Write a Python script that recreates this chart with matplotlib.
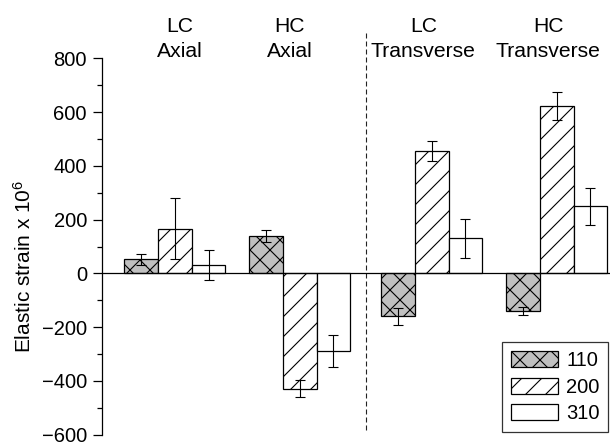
import matplotlib
matplotlib.use("Agg")
import matplotlib.pyplot as plt
import matplotlib.hatch as mhatch
from matplotlib.transforms import blended_transform_factory

plt.rcParams["font.family"] = ["Liberation Sans", "DejaVu Sans"]
plt.rcParams["mathtext.fontset"] = "custom"
plt.rcParams["mathtext.rm"] = "Liberation Sans"
plt.rcParams["mathtext.it"] = "Liberation Sans:italic"
plt.rcParams["hatch.linewidth"] = 0.8

# denser hatching than matplotlib's default of 6 lines per unit cell
_base_hatch_path = mhatch.get_path


def _dense_hatch_path(hatchpattern, density=6):
    return _base_hatch_path(hatchpattern, 10)


mhatch.get_path = _dense_hatch_path

# ---- data ----
groups_top = ["LC", "HC", "LC", "HC"]
groups_bottom = ["Axial", "Axial", "Transverse", "Transverse"]
series = ["110", "200", "310"]
vals_110 = [52, 140, -159, -140]
err_110 = [20, 23, 32, 15]
vals_200 = [166, -429, 455, 623]
err_200 = [114, 31, 37, 53]
vals_310 = [31, -289, 130, 250]
err_310 = [57, 61, 71, 69]
yticks = [-600, -400, -200, 0, 200, 400, 600, 800]

# ---- layout ----
DPI = 100
group_x = [1.0, 2.0, 3.057, 4.057]
label_x = [1.04, 1.92, 2.99, 3.99]
width = 0.27
styles = [
    dict(facecolor="#c0c0c0", hatch="x"),
    dict(facecolor="white", hatch="/"),
    dict(facecolor="white", hatch=""),
]

fig = plt.figure(figsize=(610 / DPI, 443 / DPI), dpi=DPI)
ax = fig.add_axes([101.5 / 610, 8.3 / 443, 1 - 101.5 / 610, (434.7 - 58.3) / 443])

all_vals = [vals_110, vals_200, vals_310]
all_errs = [err_110, err_200, err_310]
for i, (name, v, e, st) in enumerate(zip(series, all_vals, all_errs, styles)):
    xs = [g + (i - 1) * width for g in group_x]
    ax.bar(xs, v, width=width, edgecolor="black", linewidth=0.9,
           label=name, zorder=2, **st)
    ax.errorbar(xs, v, yerr=e, fmt="none", ecolor="black", elinewidth=0.8,
                capsize=3.3, capthick=0.8, zorder=4)

ax.axhline(0, color="black", linewidth=0.9, zorder=3)
ax.axvline((group_x[1] + group_x[2]) / 2, ymin=0.0125, ymax=1.067,
           color="#222222", linewidth=0.8, dashes=(4.5, 2.7), clip_on=False, zorder=1)

ax.set_xlim(0.413, 4.484)
ax.set_ylim(-600, 800)
ax.set_yticks(yticks)
ax.set_yticks(range(-500, 800, 200), minor=True)
ax.set_xticks([])
for side in ("top", "right", "bottom"):
    ax.spines[side].set_visible(False)
ax.spines["left"].set_linewidth(0.9)
ax.tick_params(axis="y", which="major", length=6.5, width=0.9, pad=4,
               labelsize=14.5, direction="out")
ax.tick_params(axis="y", which="minor", length=3.6, width=0.9, direction="out")

trans = blended_transform_factory(ax.transData, fig.transFigure)
for x, t, b in zip(label_x, groups_top, groups_bottom):
    ax.text(x, 1 - 32 / 443, t, transform=trans, ha="center", va="baseline", fontsize=15.2)
    ax.text(x, 1 - 57 / 443, b, transform=trans, ha="center", va="baseline", fontsize=15.2)

fig.text(23.5 / 610, 1 - 266 / 443, r"Elastic strain x 10$^{\mathrm{6}}$",
         rotation=90, ha="center", va="center", fontsize=15)

leg = ax.legend(loc="lower right", bbox_to_anchor=(0.996, 0.008), borderaxespad=0,
                fontsize=14.5, handlelength=2.35, handleheight=0.85, handletextpad=0.4,
                labelspacing=0.38, borderpad=0.42, fancybox=False, framealpha=1)
leg.get_frame().set_edgecolor("#333333")
leg.get_frame().set_linewidth(0.9)

fig.savefig("out.png", dpi=DPI)
